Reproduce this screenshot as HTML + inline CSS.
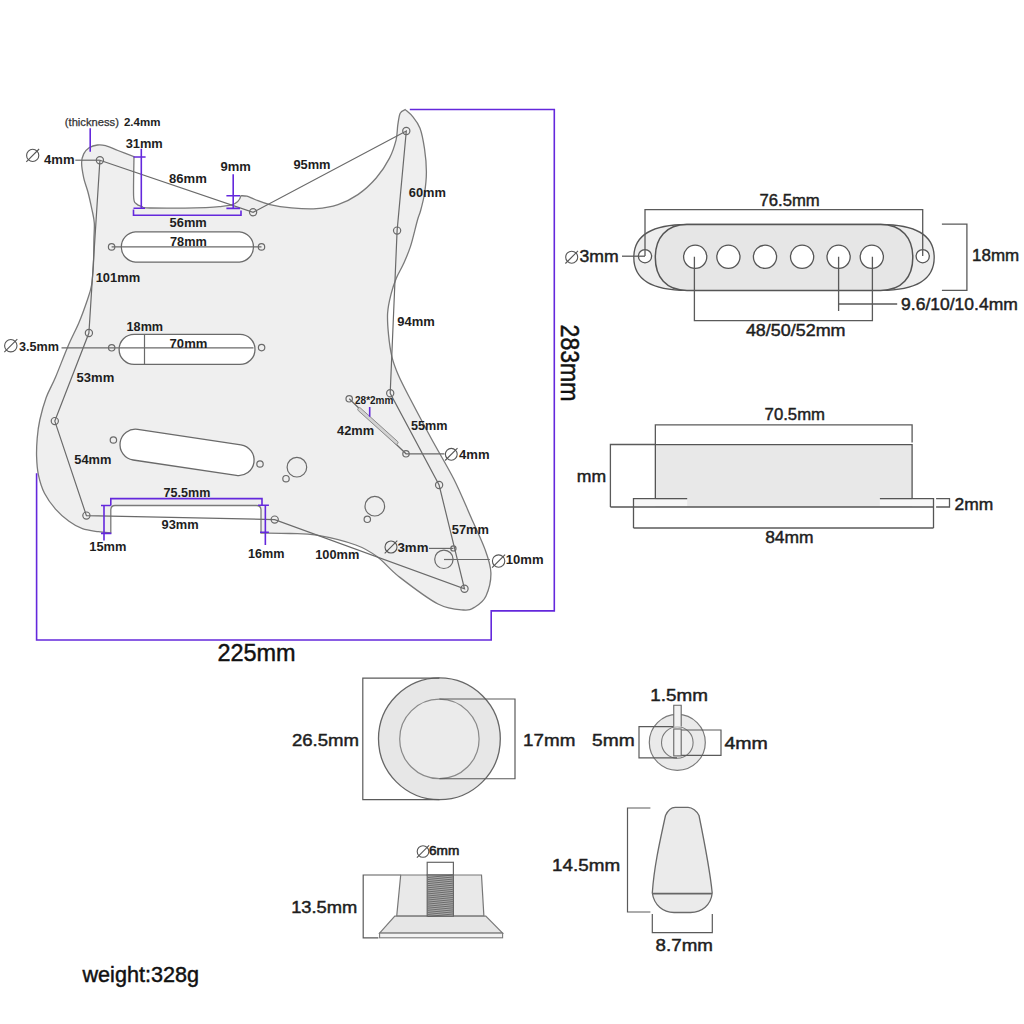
<!DOCTYPE html>
<html><head><meta charset="utf-8"><title>Pickguard diagram</title>
<style>html,body{margin:0;padding:0;background:#fff;width:1024px;height:1024px;overflow:hidden}
svg{display:block;font-family:"Liberation Sans",sans-serif}</style></head>
<body>
<svg width="1024" height="1024" viewBox="0 0 1024 1024"><path d="M110.8,532.8 C108.7,532.6 103.0,532.4 98.3,531.7 C93.6,531.0 87.3,530.4 82.4,528.7 C77.5,527.0 73.5,524.6 69.0,521.3 C64.5,518.0 59.6,513.8 55.5,509.1 C51.4,504.4 47.4,499.0 44.5,493.3 C41.6,487.6 39.7,481.0 38.4,474.9 C37.1,468.8 36.8,462.7 36.6,456.6 C36.4,450.5 36.7,444.4 37.2,438.3 C37.7,432.2 38.3,426.8 39.8,420.0 C41.3,413.2 43.6,404.7 46.2,397.5 C48.9,390.3 52.0,385.6 55.6,377.0 C59.2,368.4 64.2,355.1 68.1,346.0 C72.0,336.9 75.7,330.3 79.0,322.5 C82.3,314.7 85.6,305.2 87.7,299.0 C89.8,292.8 90.6,290.7 91.6,285.0 C92.5,279.3 93.0,272.6 93.4,265.0 C93.8,257.4 93.8,246.4 93.9,239.4 C94.1,232.4 94.6,228.0 94.3,223.0 C94.0,218.0 93.0,214.6 91.9,209.3 C90.8,204.1 89.2,196.7 87.8,191.5 C86.4,186.3 84.7,182.7 83.7,177.9 C82.7,173.1 81.6,166.8 81.6,162.8 C81.6,158.8 82.5,156.4 83.7,153.9 C85.0,151.4 86.8,149.3 89.1,147.8 C91.4,146.3 94.7,145.3 97.4,145.0 C100.2,144.7 102.2,144.8 105.6,145.7 C109.0,146.6 113.2,148.7 117.9,150.5 C122.6,152.3 131.3,155.7 134.0,156.7 C133.9,163.2 133.3,188.2 133.6,196.0 C133.9,203.8 134.6,201.8 136.0,203.5 C137.4,205.2 139.7,205.8 142.0,206.5 C144.3,207.2 139.4,207.8 150.0,208.0 C160.6,208.2 193.8,207.9 205.8,207.6 C217.8,207.3 217.8,206.7 222.0,206.3 C226.2,205.9 229.5,205.3 231.0,205.1 Q239,203.5 241,195.7 C242.0,195.8 244.6,195.6 246.9,196.2 C249.2,196.8 251.2,198.1 255.0,199.5 C258.8,200.9 263.8,203.2 269.9,204.6 C276.0,206.0 283.8,207.2 291.5,207.9 C299.2,208.6 308.6,209.2 316.4,208.7 C324.1,208.1 331.1,206.9 338.0,204.6 C344.9,202.2 351.5,199.0 357.9,194.6 C364.3,190.2 370.9,184.1 376.2,178.0 C381.5,171.9 386.2,164.5 389.5,158.1 C392.8,151.7 394.7,145.3 396.1,139.8 C397.5,134.3 397.1,129.3 397.8,124.9 C398.5,120.5 399.0,115.8 400.2,113.3 C401.4,110.8 404.4,110.2 405.2,109.6 C406.4,110.8 410.2,113.5 412.7,116.6 C415.2,119.7 418.0,122.9 420.0,128.2 C422.0,133.5 423.4,141.3 424.5,148.6 C425.6,155.9 426.4,164.5 426.4,172.0 C426.4,179.5 425.5,187.0 424.5,193.5 C423.5,200.0 421.7,206.6 420.5,211.0 C419.3,215.4 419.2,214.1 417.5,220.0 C415.8,225.9 412.9,239.1 410.5,246.4 C408.1,253.7 405.8,258.7 403.4,264.0 C401.0,269.3 398.4,273.0 396.4,278.0 C394.3,283.0 392.6,288.0 391.1,293.9 C389.6,299.8 388.0,306.6 387.6,313.3 C387.2,320.1 387.8,327.1 388.5,334.4 C389.2,341.7 390.4,350.5 392.0,357.2 C393.6,363.9 395.4,368.3 398.2,374.8 C401.0,381.3 403.2,385.5 408.7,396.0 C414.2,406.5 423.5,424.2 431.0,438.0 C438.5,451.8 447.0,465.7 453.8,479.0 C460.5,492.3 466.1,506.3 471.3,518.0 C476.5,529.7 481.7,540.3 485.0,549.4 C488.3,558.5 490.7,565.0 490.9,572.8 C491.1,580.6 488.6,590.3 486.0,596.0 C483.4,601.7 478.8,604.7 475.0,607.0 C471.2,609.3 469.7,610.5 463.5,610.0 C457.3,609.5 448.8,609.5 438.0,604.0 C427.2,598.5 409.1,584.5 399.0,576.7 C388.9,568.9 384.8,562.3 377.6,557.0 C370.4,551.7 366.0,548.6 355.8,545.0 C345.6,541.4 327.7,537.1 316.7,535.2 C305.7,533.3 299.3,533.9 290.0,533.5 C280.7,533.1 265.8,533.1 261.0,533.0 L261,510 Q261,505.5 256.5,505.5 L115,505.5 Q110.8,505.5 110.8,510 Z" fill="#efefef" stroke="#7a7a7a" stroke-width="1.3"/>
<g fill="#ffffff" stroke="#6a6a6a" stroke-width="1.3">
<path d="M135.3,231.8 H239.5 A15.2,15.2 0 0 1 239.5,262.1 H135.3 A15.2,15.2 0 0 1 135.3,231.8 Z"/>
<path d="M134.1,334.4 H240.0 A15.0,15.0 0 0 1 240.0,364.4 H134.1 A15.0,15.0 0 0 1 134.1,334.4 Z"/>
<path d="M134.9,436.9 H239.2 A15.5,15.5 0 0 1 239.2,467.9 H134.9 A15.5,15.5 0 0 1 134.9,436.9 Z" transform="rotate(8.50 187.1 452.4)"/>
</g>
<path d="M99.9,160.2 L253.1,212.3 L406.3,131.0 L397.1,230.6 L390.2,393.3 L439.1,485.0 L464.5,588.8 L274.7,519.6 L86.4,515.6 L54.8,421.1 L88.9,333.0 L99.9,160.2" fill="none" stroke="#6a6a6a" stroke-width="1.2"/>
<g stroke="#6a6a6a" stroke-width="1.2" fill="none">
<path d="M75.3,160.2 H99.9"/>
<path d="M111.6,246.9 H261.5"/>
<path d="M61.5,347.9 H253.5"/>
<path d="M144.5,334.4 V364.3"/>
<path d="M349.2,398.75 L406,453.8 H444.5"/>
<path d="M429,548.4 H453.4"/>
<path d="M444,559.5 H489.9"/>
</g>
<rect x="-26.5" y="-1.7" width="53" height="3.4" rx="1.7" fill="#d2d2d2" stroke="#888" stroke-width="0.9" transform="translate(377.9,426) rotate(42)"/>
<g fill="none" stroke="#6a6a6a" stroke-width="1.2">
<circle cx="99.9" cy="160.2" r="3.6"/>
<circle cx="253.1" cy="212.3" r="3.6"/>
<circle cx="406.3" cy="131.0" r="3.6"/>
<circle cx="397.1" cy="230.6" r="3.6"/>
<circle cx="390.2" cy="393.3" r="3.6"/>
<circle cx="439.1" cy="485.0" r="3.6"/>
<circle cx="464.5" cy="588.8" r="3.6"/>
<circle cx="274.7" cy="519.6" r="3.6"/>
<circle cx="86.4" cy="515.6" r="3.6"/>
<circle cx="54.8" cy="421.1" r="3.6"/>
<circle cx="88.9" cy="333.0" r="3.6"/>
<circle cx="111.6" cy="246.9" r="3.2"/>
<circle cx="261.5" cy="246.9" r="3.2"/>
<circle cx="111.7" cy="347.8" r="3.2"/>
<circle cx="261.6" cy="347.6" r="3.2"/>
<circle cx="113.4" cy="440.0" r="3.2"/>
<circle cx="260.0" cy="464.0" r="3.2"/>
<circle cx="349.2" cy="398.8" r="3.2"/>
<circle cx="406.0" cy="453.8" r="3.2"/>
<circle cx="286.0" cy="478.7" r="3.2"/>
<circle cx="367.3" cy="519.3" r="3.2"/>
<circle cx="453.4" cy="548.4" r="2.6"/>
<circle cx="296.9" cy="467.2" r="9.8"/>
<circle cx="374.8" cy="506.2" r="9.8"/>
<circle cx="443.9" cy="559.3" r="9.2"/>
</g>
<path d="M444,559.5 H454" stroke="#6a6a6a" stroke-width="1.2"/>
<g fill="none" stroke="#6428dc" stroke-width="1.6">
<path d="M409.8,109.5 H554.3 V610.9 H491.2 V640 H36.6 V473.2"/>
<path d="M90.2,128.3 V151.8"/>
<path d="M141.3,148.8 V208.4 M133.5,157 H145.6 M133.5,208.2 H145"/>
<path d="M133.5,209.4 V215.2 H241 V210.4"/>
<path d="M233.2,174.2 V208.4 M226.4,195.7 H240 M226.4,208.4 H240"/>
<path d="M369.7,407 V416.7"/>
<path d="M110.8,505.5 V498.6 H262 V505"/>
<path d="M104,505.5 V540.6 M101,505.5 H110.8 M101,533.4 H111.4"/>
<path d="M265.35,505.3 V545 M258,505.3 H268.9 M260,532.3 H268.9"/>
</g>
<path d="M687,224.5 H880.6 C918,224.5 934.2,236 934.2,257.5 C934.2,279 918,290.4 880.6,290.4 H687 C650,290.4 633.8,279 633.8,257.5 C633.8,236 650,224.5 687,224.5 Z" fill="#ededed" stroke="#555" stroke-width="1.3"/>
<path d="M687,224.5 H880.6 C902,224.5 912.8,238 912.8,257.5 C912.8,277 902,290.4 880.6,290.4 H687 C666,290.4 655.3,277 655.3,257.5 C655.3,238 666,224.5 687,224.5 Z" fill="#e6e6e6" stroke="#555" stroke-width="1.5"/>
<g fill="#fff" stroke="#555" stroke-width="1.3">
<circle cx="695.2" cy="256.8" r="11.6"/>
<circle cx="728.4" cy="256.8" r="11.6"/>
<circle cx="765.0" cy="256.8" r="11.6"/>
<circle cx="802.1" cy="256.8" r="11.6"/>
<circle cx="838.6" cy="256.8" r="11.6"/>
<circle cx="871.8" cy="256.8" r="11.6"/>
<circle cx="645" cy="256.2" r="6.6"/><circle cx="922.7" cy="256.2" r="6.6"/>
</g>
<g fill="none" stroke="#5a5a5a" stroke-width="1.3">
<path d="M645,256 V209.7 H922.7 V256"/>
<path d="M622,256.2 H645"/>
<path d="M941.9,224.2 H966.9 V290.4 H941.9"/>
<path d="M838.6,256.8 V310.9 M838.6,304 H897.2"/>
<path d="M694.4,256.8 V320.6 H872.4 V256.8"/>
<path d="M655.35,444.5 V424.8 H912.1 V442.5"/>
<path d="M655.35,444.5 H610.4 V507"/>
<path d="M633.5,528 H933.5"/>
<path d="M936.1,498.7 H949.5 V507 H936.1"/>
</g>
<rect x="655.35" y="444.6" width="256.75" height="62.4" fill="#e8e8e8"/>
<rect x="634.5" y="499.6" width="52.7" height="6.6" fill="#f7f7f7"/>
<rect x="879.9" y="499.6" width="53" height="6.6" fill="#f7f7f7"/>
<g fill="none" stroke="#555" stroke-width="1.3">
<path d="M655.35,498.6 V444.6 H912.1 V498.6"/>
<path d="M610.4,507 H933.5"/>
<path d="M633.5,528 V498.6 H687.2"/>
<path d="M879.9,498.6 H933.5 V528"/>
</g>
<circle cx="439.4" cy="738.8" r="60.9" fill="#e7e7e7" stroke="#666" stroke-width="1.3"/>
<circle cx="439.4" cy="738.9" r="39.7" fill="#ebebeb" stroke="#8a8a8a" stroke-width="1.2"/>
<g fill="none" stroke="#5a5a5a" stroke-width="1.2">
<path d="M439.4,678.1 H362.8 V799.7 H439.4"/>
<path d="M439.4,699 H515 V778.75 H439.4"/>
</g>
<circle cx="677.3" cy="742.4" r="28" fill="#eaeaea" stroke="#7a7a7a" stroke-width="1.2"/>
<circle cx="677.3" cy="742.5" r="15.8" fill="#eeeeee" stroke="#7a7a7a" stroke-width="1.1"/>
<g fill="none" stroke="#5a5a5a" stroke-width="1.2">
<path d="M673.75,726.6 H639 V757.9 H677"/>
<path d="M681.2,730 H721 V755.4 H677"/>
</g>
<path d="M673.75,726.6 V705.2 H681.2 V726.6" fill="#f2f2f2" stroke="#666" stroke-width="1.1"/>
<rect x="673.75" y="729" width="7.45" height="26.9" fill="#f0f0f0" stroke="#666" stroke-width="1.1"/>
<path d="M400.7,875 H363.2 V937.8 H378.4" fill="none" stroke="#5a5a5a" stroke-width="1.2"/>
<path d="M400.7,875 H481.5 L483.9,916.2 H396.7 Z" fill="#e9e9e9" stroke="#777" stroke-width="1.2"/>
<path d="M394.8,916.2 H485.8 L502.6,933.1 H379.6 Z" fill="#e6e6e6" stroke="#7a7a7a" stroke-width="1.2"/>
<rect x="379.6" y="933.1" width="123" height="4.7" fill="#f2f2f2" stroke="#7a7a7a" stroke-width="1.1"/>
<rect x="427.2" y="862.3" width="26.2" height="12.7" fill="#fff" stroke="#666" stroke-width="1.2"/>
<rect x="427.2" y="875" width="26.2" height="41.2" fill="#a9a9a9" stroke="#666" stroke-width="1.2"/>
<path d="M427.8,877.5 L452.8,875.0 M427.8,879.5 L452.8,877.0 M427.8,881.6 L452.8,879.1 M427.8,883.6 L452.8,881.1 M427.8,885.7 L452.8,883.2 M427.8,887.8 L452.8,885.2 M427.8,889.8 L452.8,887.3 M427.8,891.9 L452.8,889.4 M427.8,893.9 L452.8,891.4 M427.8,896.0 L452.8,893.5 M427.8,898.0 L452.8,895.5 M427.8,900.0 L452.8,897.5 M427.8,902.1 L452.8,899.6 M427.8,904.1 L452.8,901.6 M427.8,906.2 L452.8,903.7 M427.8,908.2 L452.8,905.8 M427.8,910.3 L452.8,907.8 M427.8,912.4 L452.8,909.9 M427.8,914.4 L452.8,911.9 M427.8,916.5 L452.8,914.0 " stroke="#5a5a5a" stroke-width="0.8"/>
<path d="M675.2,807.3 H688.1 C692,807.3 697,811 699,815.5 C705,845 710,870 712.2,893 C711,905 702,912.3 690.4,912.5 H674 C663,912.3 654,905 652.3,893 C654,868 659,845 665.5,815.5 C667.5,811 671,807.3 675.2,807.3 Z" fill="#ebebeb" stroke="#6a6a6a" stroke-width="1.3"/>
<path d="M652.6,893.6 H712" stroke="#666" stroke-width="1.6"/>
<g fill="none" stroke="#5a5a5a" stroke-width="1.2">
<path d="M650.4,808 H627.5 V912 H650.4"/>
<path d="M652.3,914 V932.6 H712.3 V914"/>
</g>
<g font-family="Liberation Sans, sans-serif">
<text x="64.8" y="126.2" font-size="11.0" font-weight="normal" fill="#333" stroke="#333" stroke-width="0.25" textLength="54.1" lengthAdjust="spacingAndGlyphs">(thickness)</text>
<text x="123.9" y="126.3" font-size="10.6" font-weight="bold" fill="#1e1e1e" textLength="36.5" lengthAdjust="spacingAndGlyphs">2.4mm</text>
<g fill="none" stroke="#555" stroke-width="1.1"><circle cx="32.7" cy="155.4" r="6.1"/><path d="M26.3,161.8 L39.1,149.0"/></g>
<text x="44.0" y="163.5" font-size="12.6" font-weight="bold" fill="#1e1e1e" textLength="30.5" lengthAdjust="spacingAndGlyphs">4mm</text>
<text x="125.7" y="148.4" font-size="12.6" font-weight="bold" fill="#1e1e1e" textLength="37.1" lengthAdjust="spacingAndGlyphs">31mm</text>
<text x="220.5" y="171.3" font-size="12.6" font-weight="bold" fill="#1e1e1e" textLength="30.3" lengthAdjust="spacingAndGlyphs">9mm</text>
<text x="293.4" y="169.3" font-size="12.6" font-weight="bold" fill="#1e1e1e" textLength="37.1" lengthAdjust="spacingAndGlyphs">95mm</text>
<text x="169.0" y="183.0" font-size="12.6" font-weight="bold" fill="#1e1e1e" textLength="37.8" lengthAdjust="spacingAndGlyphs">86mm</text>
<text x="408.8" y="197.0" font-size="12.6" font-weight="bold" fill="#1e1e1e" textLength="37.2" lengthAdjust="spacingAndGlyphs">60mm</text>
<text x="169.6" y="227.0" font-size="12.6" font-weight="bold" fill="#1e1e1e" textLength="37.2" lengthAdjust="spacingAndGlyphs">56mm</text>
<text x="170.0" y="245.5" font-size="12.6" font-weight="bold" fill="#1e1e1e" textLength="36.8" lengthAdjust="spacingAndGlyphs">78mm</text>
<text x="95.7" y="281.6" font-size="12.6" font-weight="bold" fill="#1e1e1e" textLength="44.5" lengthAdjust="spacingAndGlyphs">101mm</text>
<text x="397.3" y="325.9" font-size="12.6" font-weight="bold" fill="#1e1e1e" textLength="37.5" lengthAdjust="spacingAndGlyphs">94mm</text>
<text x="126.6" y="331.0" font-size="12.6" font-weight="bold" fill="#1e1e1e" textLength="36.5" lengthAdjust="spacingAndGlyphs">18mm</text>
<text x="169.6" y="347.9" font-size="12.6" font-weight="bold" fill="#1e1e1e" textLength="37.8" lengthAdjust="spacingAndGlyphs">70mm</text>
<g fill="none" stroke="#555" stroke-width="1.1"><circle cx="10.8" cy="345.7" r="6.2"/><path d="M4.3,352.2 L17.3,339.2"/></g>
<text x="19.1" y="350.6" font-size="12.6" font-weight="bold" fill="#1e1e1e" textLength="39.9" lengthAdjust="spacingAndGlyphs">3.5mm</text>
<text x="76.6" y="382.4" font-size="12.6" font-weight="bold" fill="#1e1e1e" textLength="37.7" lengthAdjust="spacingAndGlyphs">53mm</text>
<text x="355.0" y="404.0" font-size="10.0" font-weight="bold" fill="#1e1e1e" textLength="38.4" lengthAdjust="spacingAndGlyphs">28*2mm</text>
<text x="337.1" y="434.7" font-size="12.6" font-weight="bold" fill="#1e1e1e" textLength="37.1" lengthAdjust="spacingAndGlyphs">42mm</text>
<text x="411.0" y="430.4" font-size="12.6" font-weight="bold" fill="#1e1e1e" textLength="36.5" lengthAdjust="spacingAndGlyphs">55mm</text>
<g fill="none" stroke="#555" stroke-width="1.1"><circle cx="451.3" cy="454.3" r="5.9"/><path d="M445.1,460.5 L457.5,448.1"/></g>
<text x="459.0" y="458.7" font-size="12.6" font-weight="bold" fill="#1e1e1e" textLength="30.5" lengthAdjust="spacingAndGlyphs">4mm</text>
<text x="74.3" y="463.5" font-size="12.6" font-weight="bold" fill="#1e1e1e" textLength="37.1" lengthAdjust="spacingAndGlyphs">54mm</text>
<text x="163.6" y="497.0" font-size="12.6" font-weight="bold" fill="#1e1e1e" textLength="46.8" lengthAdjust="spacingAndGlyphs">75.5mm</text>
<text x="161.6" y="529.3" font-size="12.6" font-weight="bold" fill="#1e1e1e" textLength="37.1" lengthAdjust="spacingAndGlyphs">93mm</text>
<text x="451.8" y="534.1" font-size="12.6" font-weight="bold" fill="#1e1e1e" textLength="37.1" lengthAdjust="spacingAndGlyphs">57mm</text>
<text x="89.3" y="551.4" font-size="12.6" font-weight="bold" fill="#1e1e1e" textLength="37.1" lengthAdjust="spacingAndGlyphs">15mm</text>
<g fill="none" stroke="#555" stroke-width="1.1"><circle cx="391.0" cy="547.0" r="6.0"/><path d="M384.7,553.3 L397.3,540.7"/></g>
<text x="397.5" y="551.7" font-size="12.6" font-weight="bold" fill="#1e1e1e" textLength="30.9" lengthAdjust="spacingAndGlyphs">3mm</text>
<text x="248.0" y="558.3" font-size="12.6" font-weight="bold" fill="#1e1e1e" textLength="36.5" lengthAdjust="spacingAndGlyphs">16mm</text>
<text x="315.2" y="558.7" font-size="12.6" font-weight="bold" fill="#1e1e1e" textLength="44.1" lengthAdjust="spacingAndGlyphs">100mm</text>
<g fill="none" stroke="#555" stroke-width="1.1"><circle cx="498.6" cy="561.1" r="6.2"/><path d="M492.1,567.6 L505.1,554.6"/></g>
<text x="505.8" y="564.0" font-size="12.6" font-weight="bold" fill="#1e1e1e" textLength="37.8" lengthAdjust="spacingAndGlyphs">10mm</text>
<text x="0" y="0" font-size="25.5" fill="#111" stroke="#111" stroke-width="0.5" textLength="76.8" lengthAdjust="spacingAndGlyphs" transform="translate(561.0,324.6) rotate(90)">283mm</text>
<text x="217.4" y="661.1" font-size="23.8" font-weight="normal" fill="#111" stroke="#111" stroke-width="0.45" textLength="78.3" lengthAdjust="spacingAndGlyphs">225mm</text>
<text x="759.5" y="206.4" font-size="16.4" font-weight="normal" fill="#1e1e1e" stroke="#1e1e1e" stroke-width="0.45" textLength="60.2" lengthAdjust="spacingAndGlyphs">76.5mm</text>
<g fill="none" stroke="#555" stroke-width="1.1"><circle cx="571.7" cy="257.2" r="6.0"/><path d="M565.4,263.5 L578.0,250.9"/></g>
<text x="579.5" y="262.0" font-size="16.4" font-weight="normal" fill="#1e1e1e" stroke="#1e1e1e" stroke-width="0.45" textLength="39.1" lengthAdjust="spacingAndGlyphs">3mm</text>
<text x="972.1" y="261.2" font-size="16.4" font-weight="normal" fill="#1e1e1e" stroke="#1e1e1e" stroke-width="0.45" textLength="47.1" lengthAdjust="spacingAndGlyphs">18mm</text>
<text x="901.1" y="309.7" font-size="16.4" font-weight="normal" fill="#1e1e1e" stroke="#1e1e1e" stroke-width="0.45" textLength="116.7" lengthAdjust="spacingAndGlyphs">9.6/10/10.4mm</text>
<text x="745.9" y="336.2" font-size="16.4" font-weight="normal" fill="#1e1e1e" stroke="#1e1e1e" stroke-width="0.45" textLength="99.6" lengthAdjust="spacingAndGlyphs">48/50/52mm</text>
<text x="764.6" y="419.9" font-size="16.4" font-weight="normal" fill="#1e1e1e" stroke="#1e1e1e" stroke-width="0.45" textLength="60.4" lengthAdjust="spacingAndGlyphs">70.5mm</text>
<text x="576.8" y="481.6" font-size="16.4" font-weight="normal" fill="#1e1e1e" stroke="#1e1e1e" stroke-width="0.45" textLength="29.3" lengthAdjust="spacingAndGlyphs">mm</text>
<text x="954.6" y="509.6" font-size="16.4" font-weight="normal" fill="#1e1e1e" stroke="#1e1e1e" stroke-width="0.45" textLength="38.7" lengthAdjust="spacingAndGlyphs">2mm</text>
<text x="765.2" y="543.0" font-size="16.4" font-weight="normal" fill="#1e1e1e" stroke="#1e1e1e" stroke-width="0.45" textLength="48.4" lengthAdjust="spacingAndGlyphs">84mm</text>
<text x="291.9" y="745.9" font-size="16.4" font-weight="normal" fill="#1e1e1e" stroke="#1e1e1e" stroke-width="0.45" textLength="67.1" lengthAdjust="spacingAndGlyphs">26.5mm</text>
<text x="523.1" y="745.9" font-size="16.4" font-weight="normal" fill="#1e1e1e" stroke="#1e1e1e" stroke-width="0.45" textLength="52.2" lengthAdjust="spacingAndGlyphs">17mm</text>
<text x="650.3" y="701.2" font-size="16.4" font-weight="normal" fill="#1e1e1e" stroke="#1e1e1e" stroke-width="0.45" textLength="57.6" lengthAdjust="spacingAndGlyphs">1.5mm</text>
<text x="592.1" y="746.2" font-size="16.4" font-weight="normal" fill="#1e1e1e" stroke="#1e1e1e" stroke-width="0.45" textLength="42.6" lengthAdjust="spacingAndGlyphs">5mm</text>
<text x="724.5" y="749.1" font-size="16.4" font-weight="normal" fill="#1e1e1e" stroke="#1e1e1e" stroke-width="0.45" textLength="43.4" lengthAdjust="spacingAndGlyphs">4mm</text>
<g fill="none" stroke="#555" stroke-width="1.1"><circle cx="423.0" cy="851.5" r="5.8"/><path d="M416.9,857.6 L429.1,845.4"/></g>
<text x="429.0" y="854.6" font-size="12.0" font-weight="normal" fill="#1e1e1e" stroke="#1e1e1e" stroke-width="0.55" textLength="30.3" lengthAdjust="spacingAndGlyphs">6mm</text>
<text x="291.2" y="913.2" font-size="16.4" font-weight="normal" fill="#1e1e1e" stroke="#1e1e1e" stroke-width="0.45" textLength="66.1" lengthAdjust="spacingAndGlyphs">13.5mm</text>
<text x="552.1" y="870.5" font-size="16.4" font-weight="normal" fill="#1e1e1e" stroke="#1e1e1e" stroke-width="0.45" textLength="68.0" lengthAdjust="spacingAndGlyphs">14.5mm</text>
<text x="655.6" y="951.1" font-size="16.4" font-weight="normal" fill="#1e1e1e" stroke="#1e1e1e" stroke-width="0.45" textLength="57.3" lengthAdjust="spacingAndGlyphs">8.7mm</text>
<text x="82.5" y="982.0" font-size="21.3" font-weight="normal" fill="#111" stroke="#111" stroke-width="0.45" textLength="116.5" lengthAdjust="spacingAndGlyphs">weight:328g</text>
</g></svg>
</body></html>
